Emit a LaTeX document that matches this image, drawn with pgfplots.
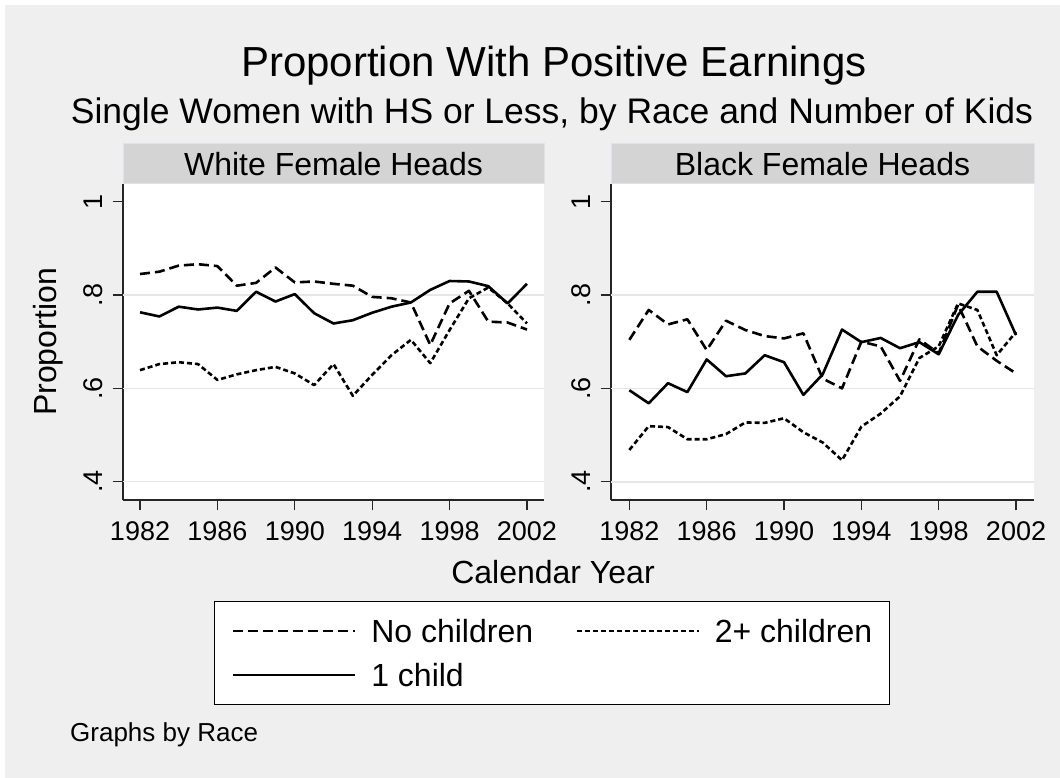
\documentclass[border=0pt]{standalone}
\usepackage{pgfplots}
\pgfplotsset{compat=1.18}
\usepackage{pgfplotstable}
\usepackage{fontspec}
\setmainfont{Liberation Sans}
\definecolor{bg}{HTML}{EFEFEF}
\definecolor{hdr}{HTML}{D4D4D4}
\definecolor{hdrb}{HTML}{DDE3EA}
\definecolor{gridc}{HTML}{E6E6E6}

\pgfplotstableread{
year wn w1 w2 bn b1 b2
1982 .845 .763 .639 .704 .596 .468
1983 .850 .754 .652 .768 .568 .519
1984 .863 .775 .656 .737 .611 .517
1985 .866 .769 .652 .748 .592 .491
1986 .862 .773 .618 .682 .662 .491
1987 .820 .766 .630 .745 .626 .502
1988 .826 .807 .639 .725 .632 .527
1989 .859 .786 .646 .712 .671 .526
1990 .827 .802 .632 .707 .656 .536
1991 .829 .761 .607 .718 .586 .506
1992 .824 .739 .652 .621 .630 .484
1993 .820 .746 .584 .600 .726 .446
1994 .796 .762 .629 .700 .699 .518
1995 .793 .775 .671 .690 .708 .546
1996 .784 .784 .704 .616 .686 .583
1997 .693 .811 .654 .705 .699 .665
1998 .782 .830 .725 .675 .673 .690
1999 .809 .829 .793 .779 .757 .782
2000 .743 .819 .816 .690 .807 .768
2001 .741 .782 .782 .659 .807 .671
2002 .726 .824 .739 .632 .714 .721
}\data

\pgfplotsset{
 panel/.style={
  scale only axis, height=316pt,
  ymin=0.3608, ymax=1.0379,
  axis x line*=bottom, axis y line*=left,
  axis line style={line width=1.4pt, black!85},
  axis background/.style={fill=white},
  xtick={1982,1986,1990,1994,1998,2002},
  xticklabels={1982,1986,1990,1994,1998,2002},
  ytick={0.4,0.6,0.8,1}, yticklabels={.4,.6,.8,1},
  tick align=outside, major tick length=10.5pt,
  every tick/.style={line width=1.2pt, black!85},
  extra y ticks={0.4,0.6,0.8}, extra y tick labels={},
  extra y tick style={grid=major, major tick length=0pt},
  grid style={line width=1.6pt, gridc},
  xticklabel style={font=\fontsize{27}{32}\selectfont, anchor=base, yshift=-30pt},
  yticklabel style={font=\fontsize{27}{32}\selectfont, xshift=-10.5pt, rotate=90, anchor=base},
  /pgf/number format/assume math mode=true,
  nd/.style={black, line width=2.6pt, line join=round, dash pattern=on 10pt off 5pt},
  sd/.style={black, line width=2.6pt, line join=round, dash pattern=on 5pt off 3pt},
  so/.style={black, line width=2.6pt, line join=round},
 }
}

\begin{document}
\begin{tikzpicture}
\fill[white] (0pt,0pt) rectangle (1060pt,778pt);
\fill[bg] (5pt,0pt) rectangle (1060pt,773pt);
% headers
\filldraw[fill=hdr, draw=hdrb, line width=1pt] (123pt,594pt) rectangle (544pt,634pt);
\filldraw[fill=hdr, draw=hdrb, line width=1pt] (611pt,594pt) rectangle (1034pt,634pt);
\node[anchor=base, font=\fontsize{32}{38}\selectfont, inner sep=0pt] at (333.5pt,602.5pt) {White Female Heads};
\node[anchor=base, font=\fontsize{32}{38}\selectfont, inner sep=0pt] at (822.5pt,602.5pt) {Black Female Heads};
% titles
\node[anchor=base, font=\fontsize{42}{50}\selectfont, inner sep=0pt] at (554pt,701pt) {Proportion With Positive Earnings};
\node[anchor=base, font=\fontsize{35.5}{42}\selectfont, inner sep=0pt] at (552pt,654pt) {Single Women with HS or Less, by Race and Number of Kids};
\node[anchor=base, font=\fontsize{32}{38}\selectfont, inner sep=0pt] at (553pt,194pt) {Calendar Year};
\node[anchor=base west, font=\fontsize{26}{31}\selectfont, inner sep=0pt] at (70pt,36pt) {Graphs by Race};

\begin{axis}[panel, at={(123pt,278pt)}, anchor=south west, width=421pt,
  xmin=1981.12, xmax=2002.88,
  ylabel={Proportion},
  every axis y label/.style={at={(axis description cs:-0.158,0.5)}, rotate=90, anchor=base, font=\fontsize{32}{38}\selectfont, inner sep=0pt}]
\addplot[nd] table[x=year,y=wn]{\data};
\addplot[sd] table[x=year,y=w2]{\data};
\addplot[so] table[x=year,y=w1]{\data};
\end{axis}

\begin{axis}[panel, at={(611pt,278pt)}, anchor=south west, width=423pt,
  xmin=1981.05, xmax=2002.93,
  legend columns=2,
  legend image code/.code={\draw[#1] (0pt,0pt) -- (122pt,0pt);},
  legend style={at={(axis description cs:-0.1395,-0.3187)}, anchor=north,
    draw=black, line width=1.3pt, fill=white, inner xsep=17pt, inner ysep=18pt,
    font=\fontsize{32}{38}\selectfont, cells={anchor=west},
    nodes={inner sep=0pt, text depth=0pt}, row sep=20.7pt,
    /tikz/every odd column/.append style={column sep=15pt},
    /tikz/every even column/.append style={column sep=42pt}}]
\addplot[nd] table[x=year,y=bn]{\data};
\addlegendentry{No children}
\addplot[sd] table[x=year,y=b2]{\data};
\addlegendentry{2+ children}
\addplot[so] table[x=year,y=b1]{\data};
\addlegendentry{1 child}
\end{axis}
\end{tikzpicture}
\end{document}
